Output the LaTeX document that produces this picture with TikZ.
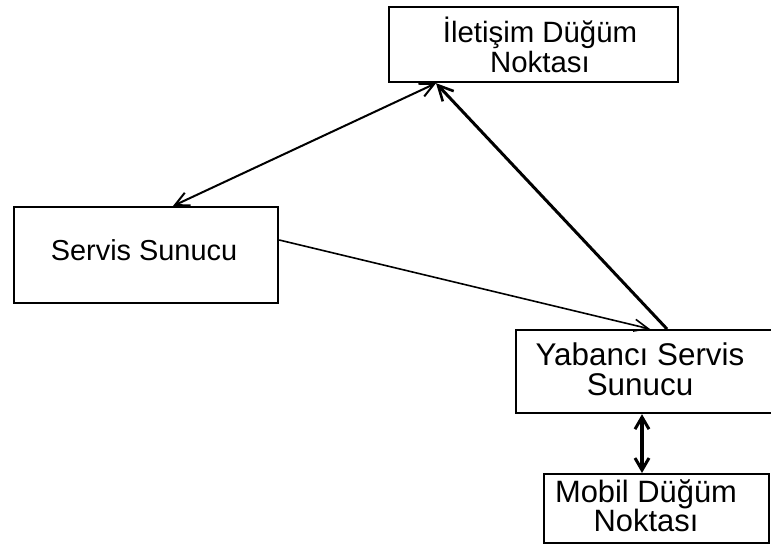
\documentclass[tikz,border=0pt]{standalone}
\usepackage{fontspec}
\setmainfont{Liberation Sans}
\usetikzlibrary{arrows.meta,calc}
\tikzset{
  medbarb/.tip={Straight Barb[length=14bp,width=14bp,line width=2bp]},
  thinbarb/.tip={Straight Barb[length=14bp,width=12bp,line width=1.6bp]},
  thickbarb/.tip={Straight Barb[length=15bp,width=15bp,line width=2.6bp]},
  bigbarb/.tip={Straight Barb[length=12bp,width=14bp,line width=3bp]}
}
\begin{document}
\begin{tikzpicture}[x=1bp,y=-1bp,
  box/.style={draw,line width=2.2bp,inner sep=0pt,anchor=north west},
  txt/.style={inner sep=0pt,align=center},
  conn/.style={line width=1.6bp}
]
\useasboundingbox (0,0) rectangle (771,547);
% boxes
\node[box,minimum width=289bp,minimum height=75bp] (il) at (388,6) {};
\node[box,minimum width=264bp,minimum height=96bp] (sv) at (13,206) {};
\node[box,minimum width=268bp,minimum height=83bp] (ya) at (515,329) {};
\node[box,minimum width=225bp,minimum height=69bp] (mb) at (543,473) {};
% texts
\node[txt,font=\fontsize{29.5}{30}\selectfont] (ilt) at (540,45) {İletişim Düğüm\\Noktası};
\node[txt,font=\fontsize{29}{29}\selectfont] (svt) at (144,250) {Servis Sunucu};
\node[txt,font=\fontsize{31.5}{30}\selectfont] (yat) at (640,369) {Yabancı Servis\\Sunucu};
\node[txt,font=\fontsize{31}{29}\selectfont] (mbt) at (646,506) {Mobil Düğüm\\Noktası};
% connection points
\coordinate (ilb) at ($(il.south west)+(48,0)$);
\coordinate (svn) at ($(sv.north west)+(160,0)$);
\coordinate (sve) at ($(sv.north east)+(0,34)$);
\coordinate (yan1) at ($(ya.north west)+(135,0)$);
\coordinate (yan2) at ($(ya.north west)+(152,0)$);
\coordinate (yas) at ($(ya.south west)+(127,0)$);
\coordinate (mbn) at ($(mb.north west)+(99,0)$);
% connectors
\draw[conn,line width=2bp,medbarb-medbarb] (svn) -- (ilb);
\draw[conn,-thinbarb] (sve) -- (yan1);
\draw[conn,line width=3bp,-thickbarb] (yan2) -- (ilb);
\draw[conn,line width=3.5bp,bigbarb-bigbarb] (yas) -- (mbn);
\end{tikzpicture}
\end{document}
